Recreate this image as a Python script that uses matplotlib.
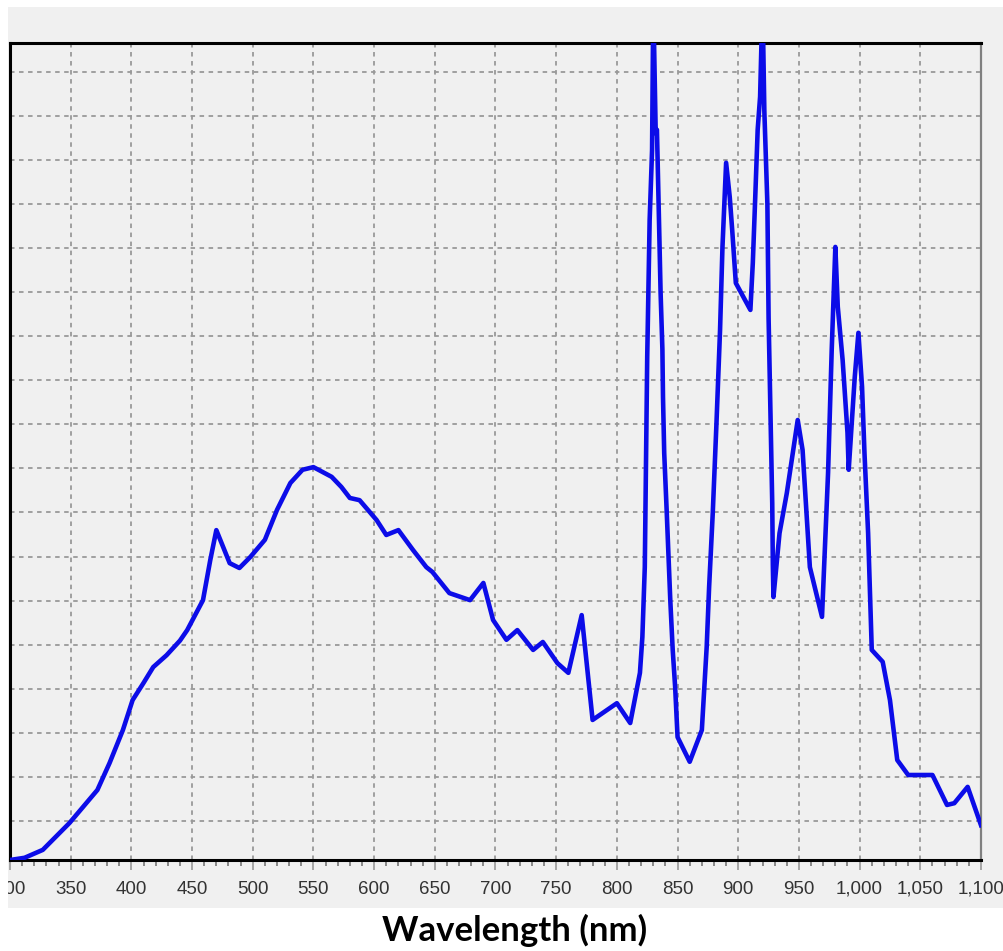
import numpy as np
import matplotlib
matplotlib.use("Agg")
import matplotlib.pyplot as plt
from matplotlib.patches import Rectangle
from matplotlib.ticker import MultipleLocator

# spectrum (intensity in grid steps, arbitrary units)
wavelength = [300, 312, 327, 349, 372, 382, 393, 401, 410, 418, 429, 440, 446, 459, 465, 470,
              481, 489, 498, 510, 520, 531, 541, 550, 565, 573, 580, 588, 602, 610,
              620, 632, 643, 648, 662, 679, 690, 698, 709, 718, 731, 739, 751, 760,
              771, 780, 800, 811, 819, 821, 823, 825, 827, 829, 830, 832, 833, 834,
              835, 836, 837.5, 838, 839, 841, 844, 846, 848, 850, 860, 870, 874, 876,
              879, 882, 885, 887, 890, 893, 895, 898, 910, 912, 914, 916, 918, 920,
              921.5, 922, 924, 925, 926, 927, 928, 928.5, 929, 934, 940, 949, 953,
              959, 969, 974, 977, 980, 982, 986, 990, 991, 996, 999, 1002, 1004,
              1007, 1010, 1019, 1025, 1031, 1040, 1060, 1072, 1078, 1089, 1100]
intensity = [0.0, 0.05, 0.23, 0.84, 1.59, 2.20, 2.95, 3.63, 4.02, 4.38, 4.65, 4.98, 5.22, 5.90, 6.81, 7.49,
             6.74, 6.63, 6.88, 7.27, 7.95, 8.56, 8.86, 8.92, 8.70, 8.47, 8.22, 8.17, 7.72, 7.38,
             7.49, 7.04, 6.65, 6.54, 6.06, 5.90, 6.29, 5.45, 5.00, 5.22, 4.77, 4.95, 4.47, 4.25,
             5.56, 3.18, 3.56, 3.11, 4.25, 5.06, 6.65, 11.42, 14.53, 16.12, 19.5, 16.5, 16.58, 15.37,
             14.15, 12.9, 11.6, 10.51, 9.24, 7.95, 5.90, 4.77, 3.93, 2.79, 2.23, 2.95, 4.84, 6.20,
             7.88, 9.88, 12.03, 13.92, 15.83, 15.05, 14.31, 13.10, 12.49, 13.56, 15.05, 16.58, 17.33, 19.5,
             17.0, 16.58, 14.9, 12.3, 10.9, 9.5, 8.1, 6.7, 5.97, 7.42, 8.33, 9.99, 9.31,
             6.65, 5.52, 8.79, 11.58, 13.92, 12.56, 11.35, 9.70, 8.86, 10.97, 11.97, 10.74, 9.24,
             7.42, 4.77, 4.50, 3.63, 2.27, 1.93, 1.93, 1.25, 1.29, 1.66, 0.79]

tick_values = [300, 350, 400, 450, 500, 550, 600, 650, 700, 750, 800, 850, 900, 950,
               1000, 1050, 1100]
tick_labels = ['300', '350', '400', '450', '500', '550', '600', '650', '700', '750', '800',
               '850', '900', '950', '1,000', '1,050', '1,100']

W, H = 1004, 951
fig = plt.figure(figsize=(W / 100, H / 100), dpi=100, facecolor='white')

# light gray panel behind the plot
panel = Rectangle((8 / W, (H - 908) / H), (W - 8) / W, (908 - 7) / H,
                  transform=fig.transFigure, facecolor='#f0f0f0',
                  edgecolor='none', zorder=-10)
fig.add_artist(panel)

ax = fig.add_axes([10 / W, (H - 860) / H, 971 / W, 817 / H])
ax.set_zorder(1)
ax.set_facecolor('#f0f0f0')

ax.plot(wavelength, intensity, color='#0c0ce8', lw=3.3, solid_joinstyle='round', zorder=3)

ax.set_xlim(300, 1100)
ax.set_ylim(0, 18.55)
ax.set_xticks(tick_values)
ax.set_xticklabels(tick_labels, family=['Liberation Sans Narrow', 'Liberation Sans', 'DejaVu Sans'],
                   fontsize=13.5, color='#333333')
ax.xaxis.set_minor_locator(MultipleLocator(10))
ax.set_yticks(np.arange(0.89, 18.5, 1.0))
ax.set_yticklabels([])
ax.tick_params(axis='y', length=0)
ax.tick_params(axis='x', which='major', direction='out', length=7, width=1.2,
               color='#999999', pad=8)
ax.tick_params(axis='x', which='minor', direction='out', length=4, width=1.2,
               color='#777777')

ax.grid(True, which='major', color='#999999', linestyle=(0, (2.5, 2.5)), linewidth=1.3)
ax.set_axisbelow(True)

for side in ['top', 'left', 'bottom']:
    ax.spines[side].set_color('black')
    ax.spines[side].set_linewidth(2.2)
ax.spines['right'].set_color('#808080')
ax.spines['right'].set_linewidth(1.6)

# white margin on the left hides the start of the first tick label, as in the source
cover = Rectangle((0, (H - 908) / H), 8 / W, 60 / H, transform=fig.transFigure,
                  facecolor='white', edgecolor='none', zorder=5)
fig.add_artist(cover)

fig.text(515 / W, (H - 930) / H, 'Wavelength (nm)', ha='center', va='center',
         fontsize=25, fontweight='bold', family=['Lato', 'DejaVu Sans'], color='black')

fig.savefig('out.png', dpi=100, facecolor='white')
